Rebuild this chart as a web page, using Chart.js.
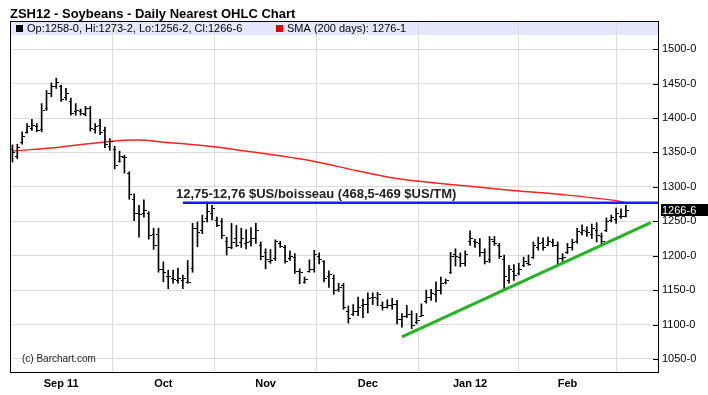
<!DOCTYPE html>
<html>
<head>
<meta charset="utf-8">
<script src="https://cdn.jsdelivr.net/npm/chart.js@4.4.1/dist/chart.umd.min.js"></script>
<style>
  html, body { margin: 0; padding: 0; background: #fff; }
  #wrap { width: 708px; height: 395px; position: relative; }
</style>
</head>
<body>
<div id="wrap"><canvas id="ohlcChart"></canvas></div>
<script>
// daily bars, Aug 18 2011 .. Feb 17 2012 (index = trading day)
const highs = [
  1361, 1362, 1380, 1392, 1398, 1392, 1421, 1440, 1451, 1458,
  1448, 1443, 1429, 1421, 1413, 1417, 1417, 1392, 1398, 1387,
  1370, 1359, 1352, 1346, 1322, 1290, 1273, 1281, 1264, 1240,
  1240, 1191, 1179, 1179, 1182, 1172, 1193, 1247, 1249, 1259,
  1278, 1273, 1256, 1254, 1227, 1247, 1244, 1240, 1238, 1241,
  1247, 1220, 1210, 1209, 1223, 1221, 1215, 1207, 1203, 1181,
  1169, 1194, 1208, 1204, 1193, 1178, 1172, 1160, 1160, 1127,
  1129, 1140, 1137, 1146, 1146, 1147, 1133, 1136, 1138, 1135,
  1116, 1128, 1120, 1116, 1130, 1150, 1151, 1162, 1169, 1166,
  1205, 1210, 1204, 1207, 1236, 1224, 1225, 1210, 1228, 1228,
  1218, 1201, 1186, 1187, 1189, 1198, 1201, 1220, 1227, 1226,
  1227, 1224, 1220, 1203, 1218, 1224, 1240, 1245, 1242, 1246,
  1248, 1233, 1255, 1259, 1269, 1268, 1273.25
];
const lows = [
  1336, 1341, 1362, 1378, 1382, 1380, 1380, 1411, 1431, 1443,
  1424, 1426, 1404, 1404, 1404, 1403, 1381, 1378, 1376, 1357,
  1353, 1326, 1336, 1320, 1282, 1251, 1227, 1256, 1224, 1209,
  1176, 1162, 1152, 1160, 1160, 1152, 1160, 1176, 1213, 1232,
  1249, 1252, 1242, 1225, 1201, 1210, 1213, 1212, 1210, 1214,
  1218, 1194, 1181, 1189, 1193, 1212, 1189, 1193, 1174, 1159,
  1160, 1176, 1176, 1188, 1162, 1154, 1144, 1148, 1122, 1102,
  1113, 1113, 1110, 1117, 1129, 1127, 1121, 1124, 1122, 1101,
  1096, 1110, 1094, 1101, 1112, 1131, 1135, 1133, 1144, 1159,
  1174, 1185, 1184, 1185, 1215, 1212, 1199, 1188, 1190, 1215,
  1196, 1150, 1160, 1164, 1172, 1184, 1186, 1196, 1208, 1208,
  1215, 1213, 1185, 1189, 1203, 1208, 1218, 1230, 1228, 1225,
  1220, 1215, 1235, 1249, 1247, 1254, 1256.25
];
const opens = [
  1355, 1345, 1365, 1380, 1386, 1388, 1384, 1414, 1436, 1447,
  1446, 1430, 1425, 1410, 1410, 1406, 1415, 1384, 1390, 1382,
  1360, 1355, 1338, 1344, 1320, 1282, 1262, 1262, 1262, 1232,
  1232, 1180, 1170, 1168, 1164, 1164, 1162, 1182, 1240, 1238,
  1255, 1262, 1252, 1250, 1222, 1212, 1225, 1220, 1218, 1222,
  1225, 1215, 1205, 1192, 1196, 1218, 1212, 1196, 1198, 1178,
  1162, 1178, 1180, 1200, 1192, 1170, 1168, 1152, 1158, 1120,
  1115, 1120, 1128, 1130, 1140, 1138, 1128, 1126, 1128, 1130,
  1108, 1112, 1115, 1104, 1112, 1134, 1140, 1144, 1150, 1162,
  1176, 1202, 1198, 1190, 1222, 1222, 1218, 1205, 1195, 1222,
  1216, 1195, 1165, 1178, 1175, 1186, 1190, 1198, 1212, 1220,
  1215, 1220, 1215, 1196, 1205, 1212, 1222, 1235, 1236, 1232,
  1238, 1228, 1238, 1252, 1254, 1258, 1258
];
const closes = [
  1350, 1358, 1374, 1389, 1390, 1383, 1412, 1437, 1446, 1452,
  1428, 1437, 1408, 1412, 1407, 1414, 1385, 1388, 1380, 1362,
  1366, 1332, 1345, 1343, 1290, 1262, 1260, 1266, 1230, 1215,
  1180, 1176, 1170, 1166, 1168, 1167, 1162, 1240, 1235, 1250,
  1265, 1270, 1245, 1230, 1212, 1220, 1216, 1225, 1220, 1226,
  1238, 1200, 1195, 1194, 1222, 1214, 1193, 1200, 1178, 1176,
  1166, 1180, 1202, 1195, 1168, 1174, 1150, 1155, 1125, 1110,
  1120, 1125, 1130, 1138, 1140, 1145, 1125, 1128, 1130, 1108,
  1112, 1115, 1100, 1106, 1114, 1140, 1146, 1150, 1160, 1164,
  1200, 1200, 1190, 1202, 1226, 1220, 1205, 1192, 1224, 1218,
  1200, 1170, 1180, 1172, 1180, 1192, 1188, 1215, 1218, 1212,
  1222, 1216, 1196, 1198, 1212, 1220, 1236, 1238, 1234, 1240,
  1230, 1222, 1250, 1256, 1262, 1257, 1266.75
];

// 200-day SMA read at a few points (bar index, value)
const smaIdx = [0, 10, 20, 26, 31, 39, 47, 52, 62, 71, 80, 94, 104, 114, 124, 126];
const smaVal = [1352, 1358, 1366, 1368, 1365, 1360, 1353, 1348, 1337, 1323, 1311, 1301, 1294, 1288, 1280, 1277];

// drawn lines
const resistIdx = [35, 132.6];
const resistVal = [1277, 1277];
const trendIdx = [80, 131.1];
const trendVal = [1082, 1248];

// axes
const monthIdx = [10, 31, 52, 73, 94, 114];
const monthLabels = ["Sep 11", "Oct", "Nov", "Dec", "Jan 12", "Feb"];
const yTicks = [1050, 1100, 1150, 1200, 1250, 1300, 1350, 1400, 1450, 1500];

const lastClose = "1266-6";

const extras = {
  id: "extras",
  beforeDraw(chart) {
    const { ctx, chartArea: a } = chart;
    // legend band
    ctx.save();
    ctx.fillStyle = "#e6e6fa";
    ctx.fillRect(a.left, a.top + 1, a.right - a.left, 13);
    ctx.restore();
  },
  afterDatasetsDraw(chart) {
    const { ctx, chartArea: a, scales: { x, y } } = chart;
    ctx.save();
    // open / close ticks
    ctx.strokeStyle = "#000";
    ctx.lineWidth = 1;
    ctx.beginPath();
    for (let i = 0; i < highs.length; i++) {
      const xp = Math.round(x.getPixelForValue(i)) + 0.5;
      const yo = Math.round(y.getPixelForValue(opens[i])) + 0.5;
      const yc = Math.round(y.getPixelForValue(closes[i])) + 0.5;
      ctx.moveTo(xp - 2.5, yo); ctx.lineTo(xp, yo);
      ctx.moveTo(xp, yc); ctx.lineTo(xp + 2.5, yc);
    }
    ctx.stroke();

    // frame left/top + inner y ticks
    ctx.beginPath();
    ctx.moveTo(a.left + 0.5, a.top); ctx.lineTo(a.left + 0.5, a.bottom);
    ctx.moveTo(a.left, a.top + 0.5); ctx.lineTo(a.right, a.top + 0.5);
    yTicks.forEach(v => {
      const yp = Math.round(y.getPixelForValue(v)) + 0.5;
      ctx.moveTo(a.right - 5, yp); ctx.lineTo(a.right, yp);
    });
    ctx.stroke();

    // title
    ctx.fillStyle = "#000";
    ctx.textBaseline = "alphabetic";
    ctx.font = "bold 13px 'Liberation Sans', Arial, sans-serif";
    ctx.fillText("ZSH12 - Soybeans - Daily Nearest OHLC Chart", 10, 18);

    // legend row
    ctx.font = "11px 'Liberation Sans', Arial, sans-serif";
    ctx.fillStyle = "#000";
    ctx.fillRect(16, 25, 7, 7);
    ctx.fillText("Op:1258-0, Hi:1273-2, Lo:1256-2, Cl:1266-6", 27, 32);
    ctx.fillStyle = "#e00000";
    ctx.fillRect(276, 25, 7, 7);
    ctx.fillStyle = "#000";
    ctx.fillText("SMA (200 days): 1276-1", 287, 32);

    // annotation
    ctx.font = "bold 13px 'Liberation Sans', Arial, sans-serif";
    ctx.fillStyle = "#222";
    ctx.fillText("12,75-12,76 $US/boisseau (468,5-469 $US/TM)", 176, 198);

    // copyright
    ctx.font = "10px 'Liberation Sans', Arial, sans-serif";
    ctx.fillText("(c) Barchart.com", 22, 362);

    // last price tag
    const yl = y.getPixelForValue(closes[closes.length - 1]);
    ctx.fillStyle = "#000";
    ctx.fillRect(a.right + 3, Math.round(yl) - 6, 47, 12);
    ctx.fillStyle = "#fff";
    ctx.font = "11px 'Liberation Sans', Arial, sans-serif";
    ctx.textBaseline = "middle";
    ctx.fillText(lastClose, a.right + 4, Math.round(yl) + 0.5);
    ctx.restore();
  }
};

const ctx = document.getElementById("ohlcChart");
new Chart(ctx, {
  type: "bar",
  data: {
    datasets: [
      {
        label: "HL",
        data: highs.map((h, i) => ({ x: i, y: [lows[i], h] })),
        backgroundColor: "#000",
        borderWidth: 0,
        barThickness: 1,
        order: 2,
      },
      {
        type: "line",
        label: "SMA",
        data: smaIdx.map((v, i) => ({ x: v, y: smaVal[i] })),
        borderColor: "#ff2020",
        borderWidth: 1.5,
        pointRadius: 0,
        tension: 0.4,
        order: 3,
      },
      {
        type: "line",
        label: "resist",
        data: resistIdx.map((v, i) => ({ x: v, y: resistVal[i] })),
        borderColor: "#1a1aff",
        borderWidth: 2.5,
        pointRadius: 0,
        order: 1,
      },
      {
        type: "line",
        label: "trend",
        data: trendIdx.map((v, i) => ({ x: v, y: trendVal[i] })),
        borderColor: "#22b422",
        borderWidth: 3,
        pointRadius: 0,
        order: 1,
      },
    ],
  },
  options: {
    responsive: true,
    maintainAspectRatio: false,
    animation: false,
    layout: { padding: { left: 10, top: 21, right: 0, bottom: 0 } },
    plugins: {
      legend: { display: false },
      tooltip: { enabled: false },
    },
    scales: {
      x: {
        type: "linear",
        offset: false,
        min: -0.5,
        max: 132.6,
        afterBuildTicks: (scale) => {
          scale.ticks = monthIdx.map((v) => ({ value: v }));
        },
        afterFit: (scale) => { scale.height = 23; },
        ticks: {
          autoSkip: false,
          maxRotation: 0,
          padding: 5,
          color: "#000",
          font: { family: "'Liberation Sans Narrow', 'Liberation Sans', sans-serif", size: 11, weight: "bold" },
          callback: (v) => monthLabels[monthIdx.indexOf(v)] ?? "",
        },
        grid: { color: "#dcdcdc", drawTicks: false },
        border: { display: true, color: "#000", width: 1 },
      },
      y: {
        position: "right",
        min: 1031,
        max: 1541,
        afterBuildTicks: (scale) => {
          scale.ticks = yTicks.map((v) => ({ value: v }));
        },
        afterFit: (scale) => { scale.width = 50; },
        ticks: {
          padding: 4,
          color: "#000",
          font: { family: "'Liberation Sans', Arial, sans-serif", size: 11 },
          callback: (v) => v + "-0",
        },
        grid: { color: "#dcdcdc", drawTicks: false },
        border: { display: true, color: "#000", width: 1 },
      },
    },
  },
  plugins: [extras],
});
</script>
</body>
</html>
